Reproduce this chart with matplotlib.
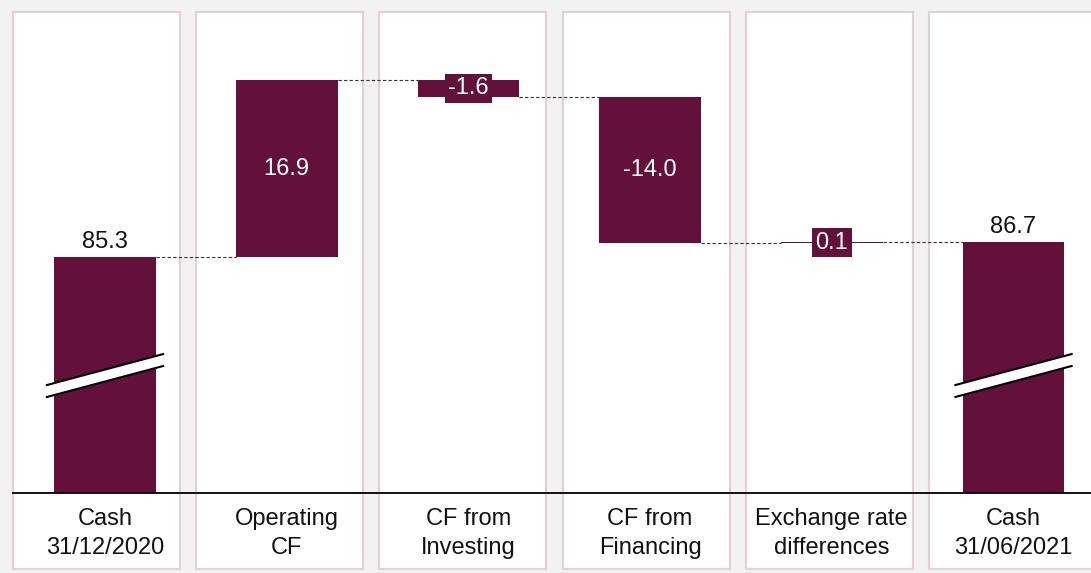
import matplotlib
matplotlib.use("Agg")
import matplotlib.pyplot as plt
from matplotlib.patches import Rectangle, Polygon

plt.rcParams['font.family'] = ['Liberation Sans', 'DejaVu Sans']

categories = ["Cash\n31/12/2020", "Operating\nCF", "CF from\nInvesting",
              "CF from\nFinancing", "Exchange rate\ndifferences", "Cash\n31/06/2021"]
start_value = 85.3
deltas = [16.9, -1.6, -14.0, 0.1]
end_value = 86.7
value_labels = ["85.3", "16.9", "-1.6", "-14.0", "0.1", "86.7"]

BAR = "#63113b"
PANEL_EDGE = "#e4cfd7"
BG = "#f2f2f2"
FS = 17
y_floor, y_top = 62.76, 108.7
width = 0.56

W, H = 1091, 573
fig = plt.figure(figsize=(W / 100, H / 100), dpi=100, facecolor=BG)
ax = fig.add_axes([13 / W, (H - 493) / H, (W - 13) / W, (493 - 12) / H])
ax.patch.set_visible(False)

# background panels
for i in range(len(categories)):
    left = 13 + i * 183.2
    fig.add_artist(Rectangle((left / W, 4 / H), 167 / W, 557 / H,
                             transform=fig.transFigure, facecolor="white",
                             edgecolor=PANEL_EDGE, lw=1.6, zorder=-1))

# compute bars
bottoms, heights = [], []
bottoms.append(y_floor); heights.append(start_value - y_floor)
running = start_value
levels = [start_value]
for d in deltas:
    new = running + d
    bottoms.append(min(running, new)); heights.append(abs(d))
    running = new
    levels.append(running)
bottoms.append(y_floor); heights.append(end_value - y_floor)

x = list(range(len(categories)))
ax.bar(x, heights, bottom=bottoms, width=width, color=BAR, zorder=2)

# connectors
for i in range(len(categories) - 1):
    lvl = levels[i]
    ax.plot([i + width / 2, i + 1 - width / 2], [lvl, lvl], color="#333333",
            lw=0.8, ls=(0, (3, 2)), zorder=1)

# labels
for i in x:
    if i in (0, len(x) - 1):
        top = bottoms[i] + heights[i]
        ax.annotate(value_labels[i], (i, top), xytext=(0, 3), textcoords="offset points",
                    ha="center", va="bottom", fontsize=FS, color="#111111")
    else:
        mid = bottoms[i] + heights[i] / 2
        ax.text(i, mid, value_labels[i], ha="center", va="center", fontsize=FS,
                color="white", zorder=4,
                bbox=dict(boxstyle="square,pad=0.15", facecolor=BAR, edgecolor="none"))

# break marks
ext = 0.04
yl, yr, ht = 72.5, 75.46, 0.57
for i in (0, len(x) - 1):
    x0, x1 = i - width / 2 - ext, i + width / 2 + ext
    ax.add_patch(Polygon([(x0, yl - ht), (x1, yr - ht), (x1, yr + ht), (x0, yl + ht)],
                         closed=True, facecolor="white", edgecolor="none", zorder=3))
    ax.plot([x0, x1], [yl - ht, yr - ht], color="black", lw=1.5, zorder=3)
    ax.plot([x0, x1], [yl + ht, yr + ht], color="black", lw=1.5, zorder=3)

ax.set_xlim(-0.5066, (W - 105) / 181.7)
ax.set_ylim(y_floor, y_top)
ax.set_xticks(x)
ax.set_xticklabels(categories, fontsize=FS, color="#111111", linespacing=1.42)
ax.tick_params(axis="x", length=0, pad=11)
ax.set_yticks([])
for s in ("top", "left", "right"):
    ax.spines[s].set_visible(False)
ax.spines["bottom"].set_color("black")
ax.spines["bottom"].set_linewidth(1.3)

fig.savefig("out.png", dpi=100, facecolor=BG)
